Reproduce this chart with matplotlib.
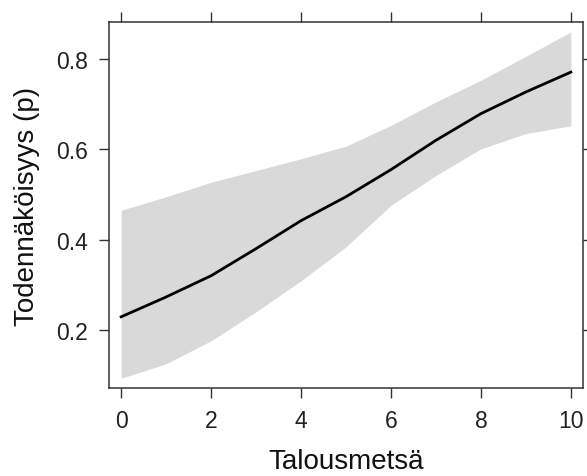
import numpy as np
import matplotlib.pyplot as plt

plt.rcParams['font.family'] = ['Liberation Sans', 'DejaVu Sans']

# effect of Talousmetsä on probability
talousmetsa = [0, 1, 2, 3, 4, 5, 6, 7, 8, 9, 10]
fit = [0.229, 0.273, 0.320, 0.380, 0.442, 0.495, 0.555, 0.620, 0.679, 0.727, 0.771]
upper = [0.465, 0.495, 0.527, 0.553, 0.579, 0.607, 0.653, 0.705, 0.753, 0.806, 0.860]
lower = [0.093, 0.125, 0.176, 0.240, 0.309, 0.384, 0.476, 0.542, 0.601, 0.635, 0.652]

x_ticks = [0, 2, 4, 6, 8, 10]
y_ticks = [0.2, 0.4, 0.6, 0.8]

fig = plt.figure(figsize=(5.87, 4.77), dpi=100)
ax = fig.add_axes([0.1857, 0.1845, 0.8075, 0.7673])

ax.fill_between(talousmetsa, lower, upper, color='#d9d9d9', linewidth=0)
ax.plot(talousmetsa, fit, color='black', linewidth=2.0)

ax.set_xlim(-0.27, 10.27)
ax.set_ylim(0.0714, 0.882)
ax.set_xticks(x_ticks)
ax.set_yticks(y_ticks)
ax.set_yticklabels([f'{v:.1f}' for v in y_ticks])

ax.tick_params(direction='out', length=7, width=1, colors='#333333',
               labelcolor='#222222', labelsize=16.5,
               top=True, right=True, labeltop=False, labelright=False)
ax.tick_params(axis='x', pad=8)
ax.tick_params(axis='y', pad=8)
for s in ax.spines.values():
    s.set_color('#333333')
    s.set_linewidth(1.1)

ax.set_xlabel('Talousmetsä', fontsize=20, color='#111111', labelpad=12)
ax.set_ylabel('Todennäköisyys (p)', fontsize=20, color='#111111', labelpad=12)

fig.savefig('out.png', dpi=100)
